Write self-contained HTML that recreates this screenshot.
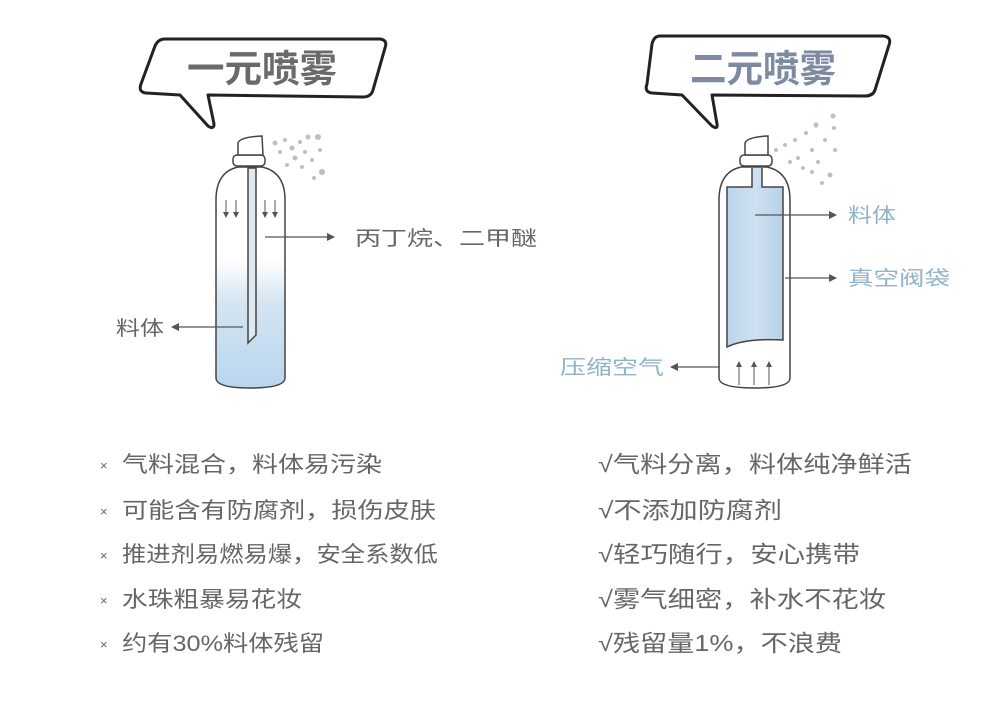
<!DOCTYPE html>
<html><head><meta charset="utf-8"><style>
html,body{margin:0;padding:0;background:#fff;}
svg{display:block;}
text{font-family:"Liberation Sans","Noto Sans CJK SC",sans-serif;}
</style></head><body>
<svg width="1000" height="714" viewBox="0 0 1000 714" xmlns="http://www.w3.org/2000/svg">
<defs>
<linearGradient id="liq" x1="0" y1="0" x2="0" y2="1">
<stop offset="0" stop-color="#fff"/><stop offset="0.42" stop-color="#fff"/><stop offset="0.62" stop-color="#d3e4f2"/><stop offset="1" stop-color="#b9d6ee"/>
</linearGradient>
<linearGradient id="bag" x1="0" y1="0" x2="1" y2="0">
<stop offset="0" stop-color="#bcd4ea"/><stop offset="0.5" stop-color="#cfe1f1"/><stop offset="1" stop-color="#b7d0e8"/>
</linearGradient>
<marker id="ah" markerWidth="8" markerHeight="8" refX="7" refY="4" orient="auto" markerUnits="userSpaceOnUse"><path d="M0,0 L8,4 L0,8 Z" fill="#555"/></marker>
<marker id="sa" markerWidth="6" markerHeight="6" refX="5" refY="3" orient="auto" markerUnits="userSpaceOnUse"><path d="M0,0 L6,3 L0,6 Z" fill="#555"/></marker>
</defs>

<!-- Left bubble -->
<path d="M165,39 L380,39 Q388,40 385,48 L373,90 Q371,97 363,97 L208,95 L214,124 Q214,130 208,126 L180,95 L146,93 Q138,92 141,84 L155,46 Q158,39 165,39 Z" fill="#fff" stroke="#222" stroke-width="3" stroke-linejoin="round"/>
<text x="262" y="82" font-size="38" font-weight="bold" fill="#6a6a6a" text-anchor="middle" textLength="150" lengthAdjust="spacingAndGlyphs">一元喷雾</text>

<!-- Right bubble -->
<path d="M660,36 L883,36 Q892,37 889,45 L875,90 Q873,96 865,96 L712,95 L717,124 Q718,130 712,126 L682,95 L652,93 Q644,92 647,84 L652,44 Q654,36 660,36 Z" fill="#fff" stroke="#222" stroke-width="3" stroke-linejoin="round"/>
<text x="763" y="82" font-size="38" font-weight="bold" fill="#7d8aa2" text-anchor="middle" textLength="146" lengthAdjust="spacingAndGlyphs">二元喷雾</text>

<!-- Left can -->
<g stroke="#444" stroke-width="1.5" fill="#fff">
<path d="M216,200 Q216,172 238,167 L262,167 Q285,172 285,200 L285,378 Q285,388 250,388 Q216,388 216,378 Z" fill="url(#liq)"/>
<rect x="233" y="155" width="32" height="11" rx="4"/>
<path d="M238,155 L238,143 Q240,137 262,136 L263,155 Z"/>
<path d="M248,168 L256,168 L256,335 L248,343 Z" fill="#dfe9f2"/>
</g>
<g stroke="#555" stroke-width="1" marker-end="url(#sa)">
<line x1="226" y1="200" x2="226" y2="217"/><line x1="236" y1="200" x2="236" y2="217"/>
<line x1="265" y1="200" x2="265" y2="217"/><line x1="275" y1="200" x2="275" y2="217"/>
</g>
<g fill="#b8c0c8">
<circle cx="275" cy="143" r="2.5"/><circle cx="285" cy="140" r="2"/><circle cx="292" cy="148" r="2.5"/><circle cx="300" cy="142" r="2"/><circle cx="308" cy="137" r="2.5"/><circle cx="318" cy="137" r="3"/><circle cx="280" cy="152" r="2"/><circle cx="295" cy="158" r="2.5"/><circle cx="305" cy="152" r="2"/><circle cx="312" cy="160" r="2"/><circle cx="320" cy="150" r="2"/><circle cx="322" cy="172" r="3"/><circle cx="302" cy="167" r="2"/><circle cx="314" cy="178" r="2"/><circle cx="287" cy="165" r="2"/>
</g>
<line x1="265" y1="237" x2="334" y2="237" stroke="#555" stroke-width="1.2" marker-end="url(#ah)"/>
<text x="355" y="245" font-size="20" fill="#666" textLength="182" lengthAdjust="spacingAndGlyphs">丙丁烷、二甲醚</text>
<line x1="243" y1="327" x2="172" y2="327" stroke="#555" stroke-width="1.2" marker-end="url(#ah)"/>
<text x="116" y="335" font-size="20" fill="#666" textLength="48" lengthAdjust="spacingAndGlyphs">料体</text>

<!-- Right can -->
<g stroke="#444" stroke-width="1.5" fill="#fff">
<path d="M719,200 Q719,172 741,167 L767,167 Q790,172 790,200 L790,378 Q790,388 755,388 Q719,388 719,378 Z"/>
<rect x="740" y="155" width="32" height="11" rx="4"/>
<path d="M745,155 L745,143 Q747,137 768,136 L768,155 Z"/>
<path d="M752,168 L752,187 L727,187 L727,347 Q745,338 783,340 L783,187 L762,187 L762,168" fill="url(#bag)"/>
</g>
<g stroke="#555" stroke-width="1" marker-end="url(#sa)">
<line x1="739" y1="385" x2="739" y2="362"/><line x1="754" y1="385" x2="754" y2="362"/><line x1="769" y1="385" x2="769" y2="362"/>
</g>
<g fill="#b8c0c8">
<circle cx="776" cy="150" r="2"/><circle cx="785" cy="145" r="2"/><circle cx="795" cy="140" r="2"/><circle cx="806" cy="133" r="2"/><circle cx="816" cy="125" r="2.5"/><circle cx="833" cy="116" r="2.5"/><circle cx="834" cy="128" r="2"/><circle cx="825" cy="140" r="2"/><circle cx="812" cy="150" r="2"/><circle cx="798" cy="158" r="2"/><circle cx="818" cy="162" r="2"/><circle cx="835" cy="150" r="2"/><circle cx="830" cy="175" r="2.5"/><circle cx="812" cy="172" r="2"/><circle cx="790" cy="162" r="2"/><circle cx="803" cy="168" r="2"/><circle cx="822" cy="183" r="2"/>
</g>
<line x1="755" y1="215" x2="836" y2="215" stroke="#555" stroke-width="1.2" marker-end="url(#ah)"/>
<text x="848" y="222" font-size="20" fill="#8fb3c8" textLength="48" lengthAdjust="spacingAndGlyphs">料体</text>
<line x1="785" y1="278" x2="836" y2="278" stroke="#555" stroke-width="1.2" marker-end="url(#ah)"/>
<text x="848" y="285" font-size="20" fill="#8fb3c8" textLength="102" lengthAdjust="spacingAndGlyphs">真空阀袋</text>
<line x1="720" y1="367" x2="671" y2="367" stroke="#555" stroke-width="1.2" marker-end="url(#ah)"/>
<text x="560" y="374" font-size="20" fill="#8fb3c8" textLength="104" lengthAdjust="spacingAndGlyphs">压缩空气</text>

<!-- Left list -->
<g fill="#666" font-size="22">
<text x="100" y="470" font-size="13">×</text><text x="122" y="472" textLength="260" lengthAdjust="spacingAndGlyphs">气料混合，料体易污染</text>
<text x="100" y="516" font-size="13">×</text><text x="122" y="518" textLength="314" lengthAdjust="spacingAndGlyphs">可能含有防腐剂，损伤皮肤</text>
<text x="100" y="560" font-size="13">×</text><text x="122" y="562" textLength="316" lengthAdjust="spacingAndGlyphs">推进剂易燃易爆，安全系数低</text>
<text x="100" y="605" font-size="13">×</text><text x="122" y="607" textLength="180" lengthAdjust="spacingAndGlyphs">水珠粗暴易花妆</text>
<text x="100" y="649" font-size="13">×</text><text x="122" y="651" textLength="202" lengthAdjust="spacingAndGlyphs">约有30%料体残留</text>
</g>
<!-- Right list -->
<g fill="#666" font-size="23">
<text x="598" y="472" textLength="314" lengthAdjust="spacingAndGlyphs">√气料分离，料体纯净鲜活</text>
<text x="598" y="518" textLength="184" lengthAdjust="spacingAndGlyphs">√不添加防腐剂</text>
<text x="598" y="562" textLength="262" lengthAdjust="spacingAndGlyphs">√轻巧随行，安心携带</text>
<text x="598" y="607" textLength="288" lengthAdjust="spacingAndGlyphs">√雾气细密，补水不花妆</text>
<text x="598" y="651" textLength="244" lengthAdjust="spacingAndGlyphs">√残留量1%，不浪费</text>
</g>
</svg>
</body></html>
